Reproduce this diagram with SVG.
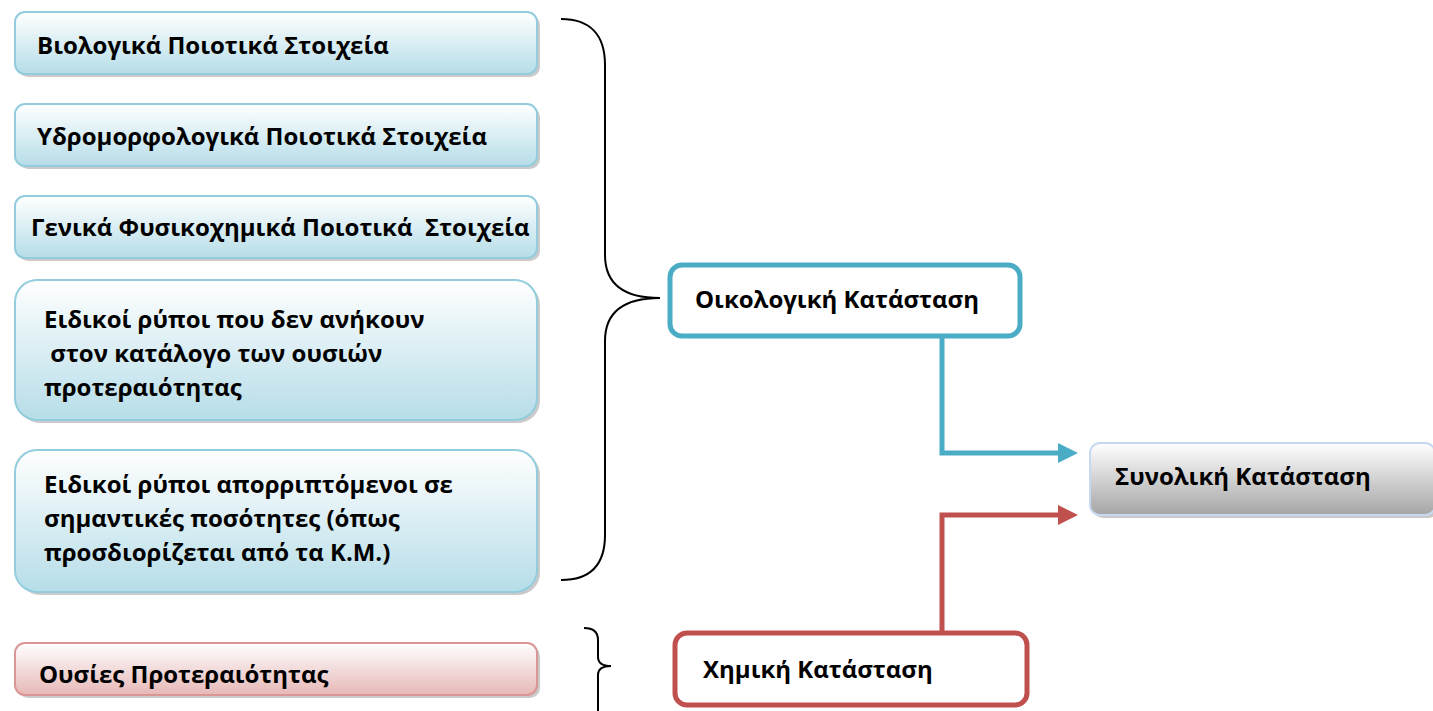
<svg xmlns="http://www.w3.org/2000/svg" width="1433" height="711" viewBox="0 0 1433 711">
<style>
text{font-family:"Open Sans","Noto Sans","DejaVu Sans",sans-serif;font-weight:bold;font-size:24px;fill:#000}
.blue{fill:url(#gBlue);stroke:#93cddd;stroke-width:2}
.pink{fill:url(#gPink);stroke:#d99694;stroke-width:2}
.gray{fill:url(#gGray);stroke:#c6d9f1;stroke-width:2}
.sh{fill:#a6a6a6;opacity:0.6}
.brace{fill:none;stroke:#000;stroke-width:2}
</style>
<defs>
<linearGradient id="gBlue" x1="0" y1="0" x2="0" y2="1"><stop offset="0" stop-color="#ffffff"/><stop offset="1" stop-color="#b6dde8"/></linearGradient>
<linearGradient id="gPink" x1="0" y1="0" x2="0" y2="1"><stop offset="0" stop-color="#ffffff"/><stop offset="1" stop-color="#e6b8b7"/></linearGradient>
<linearGradient id="gGray" x1="0" y1="0" x2="0" y2="1"><stop offset="0" stop-color="#ffffff"/><stop offset="1" stop-color="#a5a5a5"/></linearGradient>
<marker id="arB" viewBox="0 0 10 10" refX="0" refY="5" markerWidth="4" markerHeight="4" markerUnits="strokeWidth" orient="auto"><path d="M0,0 L10,5 L0,10 z" fill="#4bacc6"/></marker>
<marker id="arR" viewBox="0 0 10 10" refX="0" refY="5" markerWidth="4" markerHeight="4" markerUnits="strokeWidth" orient="auto"><path d="M0,0 L10,5 L0,10 z" fill="#c0504d"/></marker>
</defs>
<g id="connectors">
<path d="M942,336 V453 H1058" fill="none" stroke="#4bacc6" stroke-width="5" marker-end="url(#arB)"/>
<path d="M942,633 V515 H1058" fill="none" stroke="#c0504d" stroke-width="5" marker-end="url(#arR)"/>
<path class="brace" d="M561,19 C590,19 605,35 605,65 V255 C605,285 625,298 660,298 C625,298 605,311 605,341 V535 C605,565 590,580 561,580"/>
<path class="brace" d="M584,628 C594,628 598,632 598,640 V657 C598,663 602,666 611,666 C602,666 598,669 598,675 V711"/>
</g>
<g id="n1">
<rect class="sh" x="18" y="15" width="522" height="62" rx="10"/>
<rect class="blue" x="15" y="12" width="522" height="62" rx="10"/>
<text x="37" y="54">Βιολογικά Ποιοτικά Στοιχεία</text>
</g>
<g id="n2">
<rect class="sh" x="18" y="107" width="522" height="62" rx="10"/>
<rect class="blue" x="15" y="104" width="522" height="62" rx="10"/>
<text x="37" y="145">Υδρομορφολογικά Ποιοτικά Στοιχεία</text>
</g>
<g id="n3">
<rect class="sh" x="18" y="199" width="522" height="62" rx="10"/>
<rect class="blue" x="15" y="196" width="522" height="62" rx="10"/>
<text x="31" y="236" xml:space="preserve">Γενικά Φυσικοχημικά Ποιοτικά  Στοιχεία</text>
</g>
<g id="n4">
<rect class="sh" x="18" y="283" width="522" height="140" rx="22"/>
<rect class="blue" x="15" y="280" width="522" height="140" rx="22"/>
<text x="44" y="328">Ειδικοί ρύποι που δεν ανήκουν</text>
<text x="44" y="362" xml:space="preserve"> στον κατάλογο των ουσιών</text>
<text x="44" y="396">προτεραιότητας</text>
</g>
<g id="n5">
<rect class="sh" x="18" y="453" width="522" height="142" rx="22"/>
<rect class="blue" x="15" y="450" width="522" height="142" rx="22"/>
<text x="44" y="493">Ειδικοί ρύποι απορριπτόμενοι σε</text>
<text x="44" y="527">σημαντικές ποσότητες (όπως</text>
<text x="44" y="561">προσδιορίζεται από τα Κ.Μ.)</text>
</g>
<g id="n6">
<rect class="sh" x="18" y="646" width="522" height="52" rx="10"/>
<rect class="pink" x="15" y="643" width="522" height="52" rx="10"/>
<text x="39" y="683">Ουσίες Προτεραιότητας</text>
</g>
<g id="eco">
<rect x="670" y="265" width="350" height="71" rx="12" fill="#fff" stroke="#4bacc6" stroke-width="5"/>
<text x="695" y="308">Οικολογική Κατάσταση</text>
</g>
<g id="chem">
<rect x="675" y="633" width="352" height="72" rx="12" fill="#fff" stroke="#c0504d" stroke-width="5"/>
<text x="703" y="678">Χημική Κατάσταση</text>
</g>
<g id="total">
<rect class="sh" x="1093" y="446" width="345" height="72" rx="10"/>
<rect class="gray" x="1090" y="443" width="345" height="72" rx="10"/>
<text x="1115" y="485">Συνολική Κατάσταση</text>
</g>
</svg>
